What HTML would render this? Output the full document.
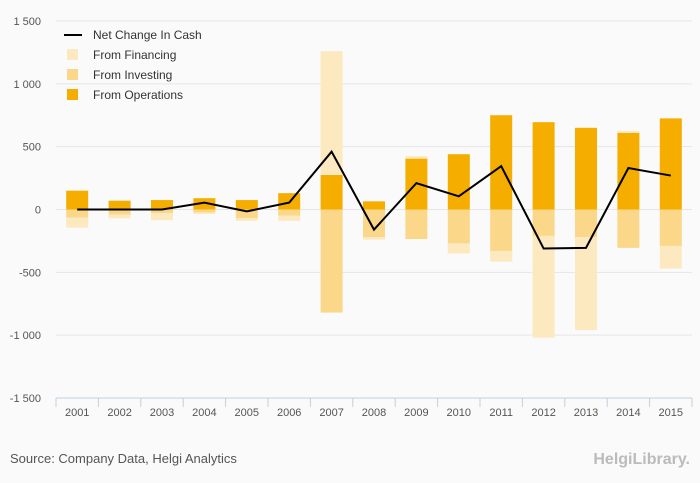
<!DOCTYPE html>
<html><head><meta charset="utf-8"><style>
body{margin:0;background:#fafafa;font-family:"Liberation Sans",sans-serif}
svg{display:block}
</style></head><body>
<svg id="c" width="700" height="483">
<rect width="700" height="483" fill="#fafafa"/>
<g id="grid"></g><g id="bars"></g><g id="line"></g><g id="axes"></g>
<g font-size="12" fill="#333">
<line x1="64" y1="35" x2="82" y2="35" stroke="#000" stroke-width="2"/>
<text x="93" y="39">Net Change In Cash</text>
<rect x="67" y="49" width="11" height="11" fill="#fde9c0"/>
<text x="93" y="59">From Financing</text>
<rect x="67" y="69" width="11" height="11" fill="#fbd78a"/>
<text x="93" y="79">From Investing</text>
<rect x="67" y="89" width="11" height="11" fill="#f5ad00"/>
<text x="93" y="99">From Operations</text>
</g>
<text x="10" y="463" font-size="13" fill="#555">Source: Company Data, Helgi Analytics</text>
<text x="690" y="464" font-size="16" fill="#bbb" text-anchor="end" font-weight="bold">HelgiLibrary.</text>
</svg>
<script>
const years=["2001","2002","2003","2004","2005","2006","2007","2008","2009","2010","2011","2012","2013","2014","2015"];
const operations=[150,70,75,90,75,130,275,65,405,440,750,695,650,610,725];
const investing=[-65,-40,-30,-25,-70,-50,-820,-220,-235,-270,-330,-210,-220,-305,-290];
const financing=[-80,-30,-55,-10,-20,-40,985,-20,20,-80,-85,-810,-740,15,-180];
const netChange=[0,0,0,55,-15,55,460,-160,210,105,345,-310,-305,330,270];
const yTicks=[-1500,-1000,-500,0,500,1000,1500];
const yTickLabels=["-1 500","-1 000","-500","0","500","1 000","1 500"];
const NS="http://www.w3.org/2000/svg";
const L=56,R=692,T=21,B=398,min=-1500,max=1500;
const step=(R-L)/years.length,bw=22;
const y=v=>B-(v-min)/(max-min)*(B-T);
const xc=i=>L+step*(i+0.5);
function mk(t,a,p){const e=document.createElementNS(NS,t);for(const k in a)e.setAttribute(k,a[k]);p.appendChild(e);return e;}
const grid=document.getElementById('grid'),axes=document.getElementById('axes'),bars=document.getElementById('bars'),line=document.getElementById('line');
yTicks.forEach((v,i)=>{
 if(i>0){const g=mk('line',{x1:L,x2:R,y1:y(v),y2:y(v),stroke:'#e6e6e6'},grid);
 
 }
 const t=mk('text',{x:41,y:y(v)+4,'text-anchor':'end','font-size':11,fill:'#555'},axes);t.textContent=yTickLabels[i];
 
 
});
const ax=mk('line',{x1:L,x2:R,y1:B,y2:B,stroke:'#c0d0e0'},axes);


for(let i=0;i<=years.length;i++){const tk=mk('line',{x1:L+step*i,x2:L+step*i,y1:B,y2:B+9,stroke:'#c0d0e0'},axes);
 
 }
years.forEach((yr,i)=>{
 const t=mk('text',{x:xc(i),y:B+18,'text-anchor':'middle','font-size':11,fill:'#555'},axes);t.textContent=yr;
 
 
 let pos=0,neg=0;
 [[operations[i],'#f5ad00','bar-operations'],[investing[i],'#fbd78a','bar-investing'],[financing[i],'#fde9c0','bar-financing']].forEach(([v,c,n])=>{
  let a,b;if(v>=0){a=pos;b=pos+v;pos=b;}else{a=neg;b=neg+v;neg=b;}
  const r=mk('rect',{x:xc(i)-bw/2,y:y(Math.max(a,b)),width:bw,height:Math.abs(y(a)-y(b)),fill:c},bars);
  
  
 });
});
const p=mk('polyline',{points:netChange.map((v,i)=>xc(i)+','+y(v)).join(' '),fill:'none',stroke:'#000','stroke-width':2},line);


</script>
</body></html>
